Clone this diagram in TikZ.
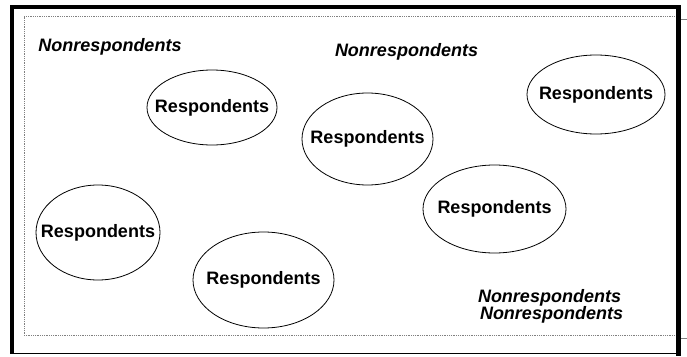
\documentclass[tikz,border=0pt]{standalone}
\usepackage{fontspec}
\setmainfont{Liberation Sans}
\usetikzlibrary{shapes.geometric}

\tikzset{
    resp/.style={ellipse, draw, line width=0.8pt, inner sep=0pt,
        label={[font=\fontsize{18}{20}\selectfont\bfseries]center:Respondents}},
    nonresp/.style={inner sep=0pt, font=\fontsize{18}{20}\selectfont\bfseries\itshape}
}

\begin{document}
\begin{tikzpicture}[x=1pt, y=-1pt]
        \useasboundingbox (0, 0) rectangle (687, 356);

        % inner dotted frame
        \draw [gray, densely dotted, line width=0.8pt] (24, 16.5) rectangle (678, 335);
        \draw [gray, line width=0.8pt] (681, 19) -- (687, 19);
        \draw [gray, line width=0.8pt] (681, 338) -- (687, 338);

        % outer frame
        \draw [line width=4.5pt] (12.2, 353.5) -- (12.2, 7) -- (678.5, 7) -- (678.5, 356);
        \draw [line width=1pt] (12, 353.5) -- (678, 353.5);

        \node[resp, minimum width=130, minimum height=75] (r1) at (212, 107.5) {};
        \node[resp, minimum width=131, minimum height=92] (r2) at (367.5, 139) {};
        \node[resp, minimum width=138, minimum height=79] (r3) at (596, 94.5) {};
        \node[resp, minimum width=143, minimum height=88] (r4) at (494.5, 209) {};
        \node[resp, minimum width=124, minimum height=95] (r5) at (98, 232.5) {};
        \node[resp, minimum width=141, minimum height=96] (r6) at (263.5, 280) {};

        \node[nonresp] (n1) at (110, 47) {Nonrespondents};
        \node[nonresp] (n2) at (406.5, 52) {Nonrespondents};
        \node[nonresp] (n3) at (549.5, 298) {Nonrespondents};
        \node[nonresp] (n4) at (551.5, 315) {Nonrespondents};
    \end{tikzpicture}
\end{document}
